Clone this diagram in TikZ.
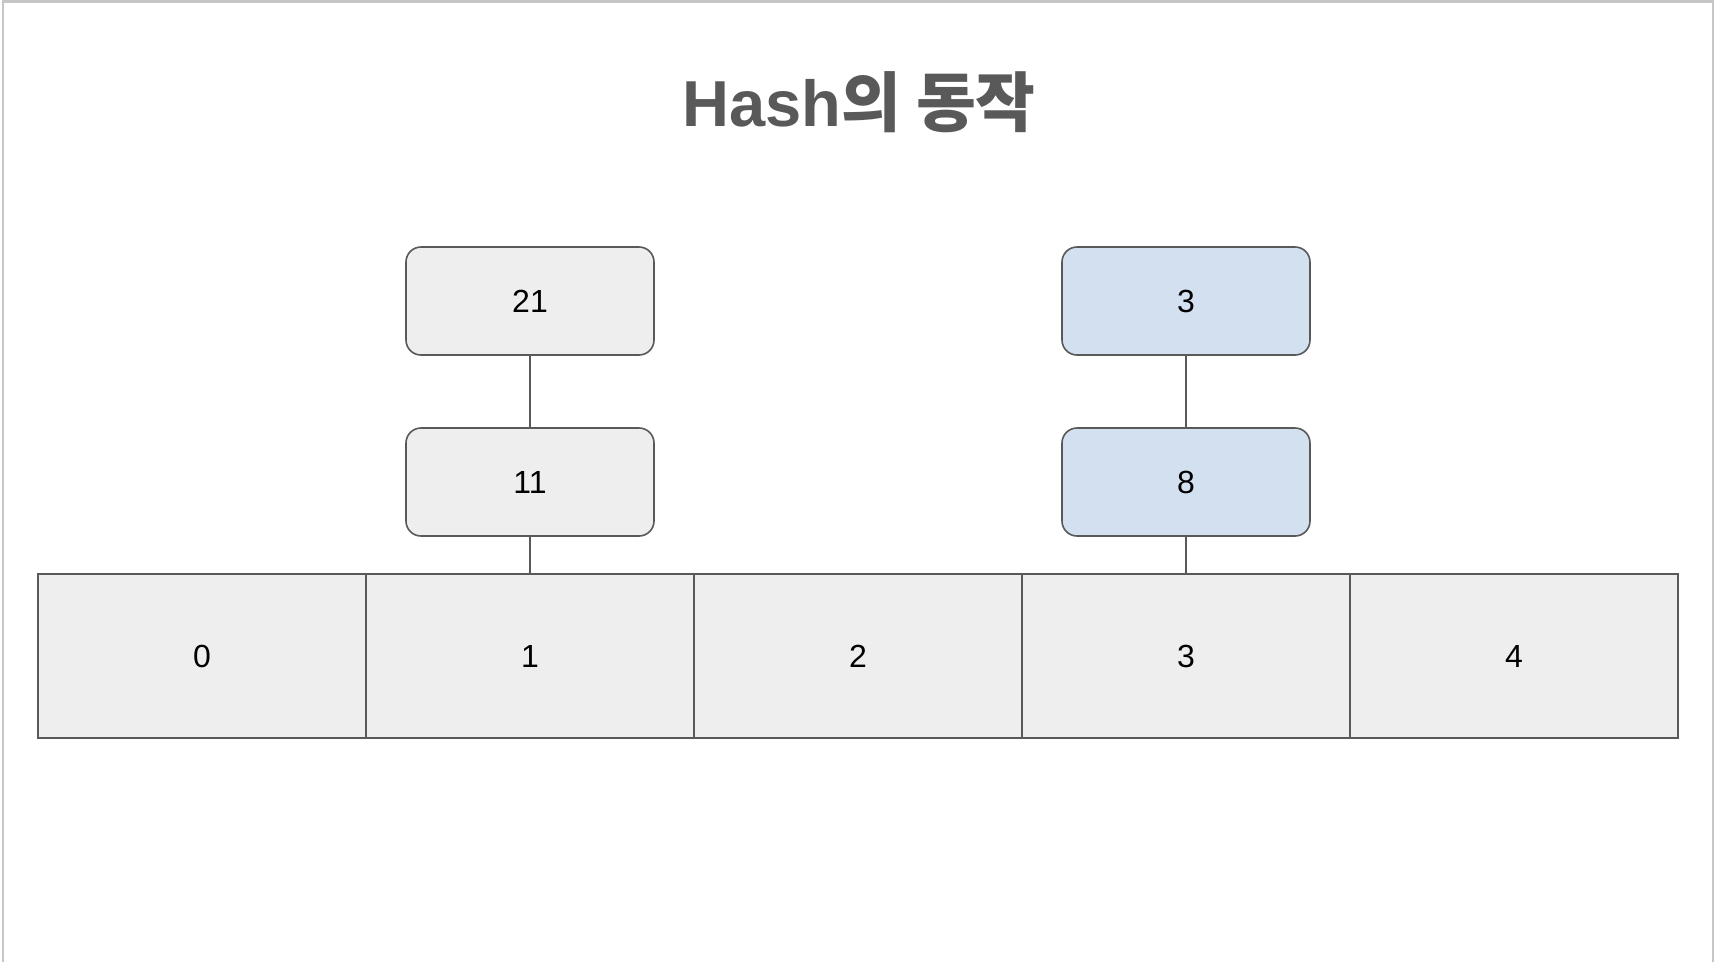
\documentclass[tikz,border=0pt]{standalone}
\usepackage{fontspec}
\setmainfont{Liberation Sans}
\newfontfamily\krfont{Noto Sans CJK KR}
\definecolor{strokegray}{HTML}{595959}
\definecolor{cellfill}{HTML}{EEEEEE}
\definecolor{bluefill}{HTML}{D3E0F0}
\definecolor{framegray}{HTML}{C6C6C6}
\begin{document}
\begin{tikzpicture}[x=1pt,y=-1pt,
  cell/.style={draw=strokegray,line width=1.6pt,fill=cellfill,minimum width=328pt,minimum height=164pt,inner sep=0pt,font=\fontsize{32}{36}\selectfont},
  chainbox/.style={draw=strokegray,line width=1.6pt,rounded corners=15pt,minimum width=248pt,minimum height=108pt,inner sep=0pt,font=\fontsize{32}{36}\selectfont},
  graybox/.style={chainbox,fill=cellfill},
  bluebox/.style={chainbox,fill=bluefill},
  link/.style={draw=strokegray,line width=1.6pt}]
\useasboundingbox (0,0) rectangle (1716,962);
\fill[white] (0,0) rectangle (1716,962);
\draw[framegray,line width=2.5pt] (3,962) -- (3,1.5) -- (1713,1.5) -- (1713,962);
\node[font=\fontsize{65}{70}\selectfont\bfseries,text=strokegray] (title) at (859,102) {Hash{\krfont\bfseries 의 동작}};
\foreach \i in {0,...,4}{
  \node[cell] (c\i) at ({38+164+328*\i},656) {\i};
}
\node[graybox] (a21) at (530,301) {21};
\node[graybox] (a11) at (530,482) {11};
\node[bluebox] (b3) at (1186,301) {3};
\node[bluebox] (b8) at (1186,482) {8};
\draw[link] (a21) -- (a11);
\draw[link] (a11) -- (a11 |- c1.north);
\draw[link] (b3) -- (b8);
\draw[link] (b8) -- (b8 |- c3.north);
\end{tikzpicture}
\end{document}
